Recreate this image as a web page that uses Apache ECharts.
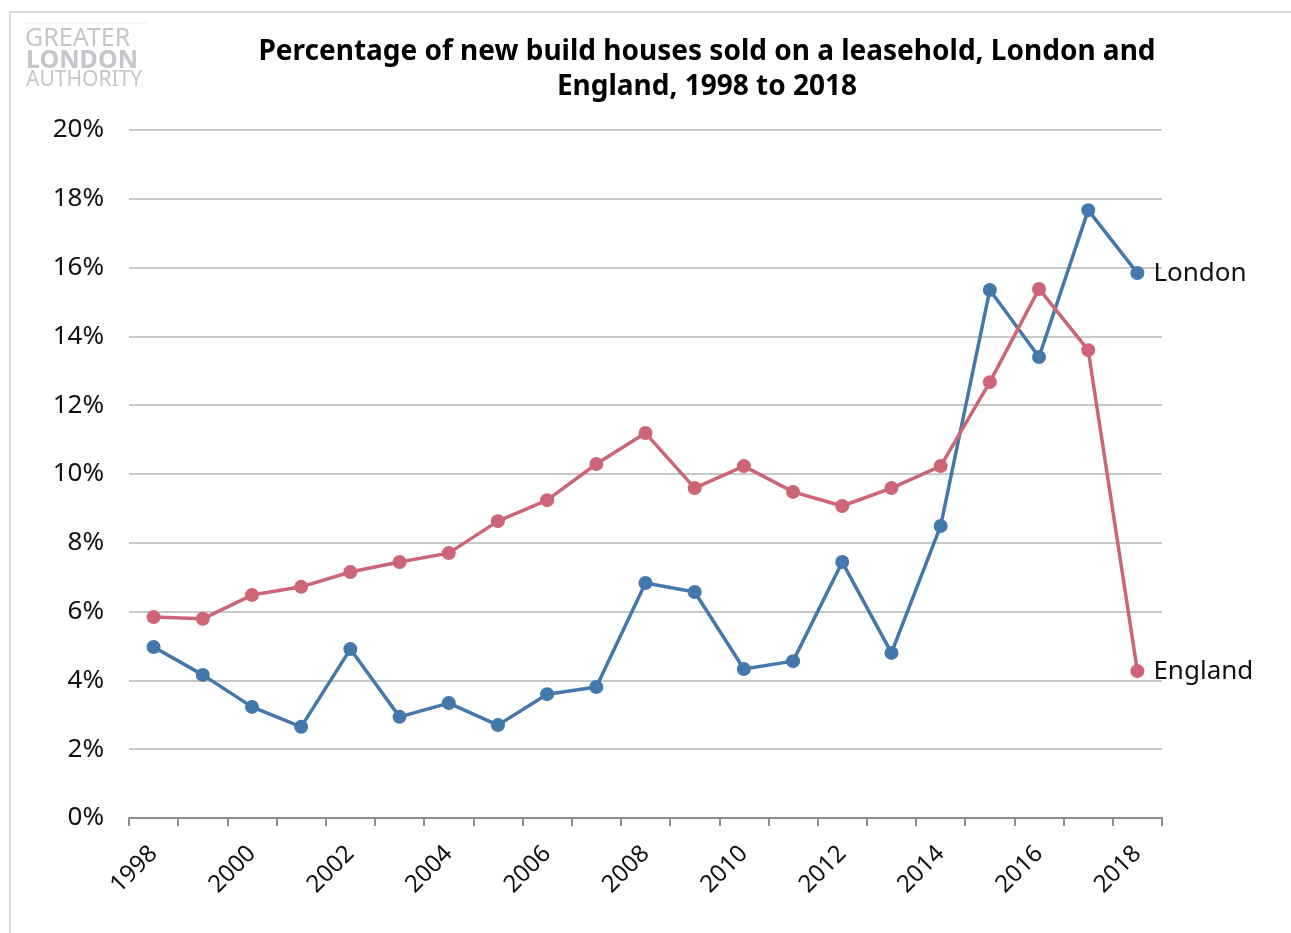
<!DOCTYPE html>
<html><head><meta charset="utf-8">
<script src="https://cdn.jsdelivr.net/npm/echarts@6/dist/echarts.min.js"></script>
<style>html,body{margin:0;padding:0;background:#fff}#c{width:1291px;height:933px}</style>
</head><body><div id="c"></div>
<script>
const years = ['1998','1999','2000','2001','2002','2003','2004','2005','2006','2007','2008','2009','2010','2011','2012','2013','2014','2015','2016','2017','2018'];
const london = [4.97,4.16,3.23,2.65,4.91,2.94,3.34,2.70,3.60,3.81,6.83,6.57,4.33,4.56,7.44,4.80,8.49,15.35,13.40,17.67,15.84];
const england = [5.84,5.79,6.48,6.72,7.15,7.44,7.70,8.63,9.24,10.29,11.19,9.59,10.23,9.48,9.07,9.59,10.23,12.67,15.38,13.60,4.27];
const titleText = 'Percentage of new build houses sold on a leasehold, London and\nEngland, 1998 to 2018';
const FONT = 'Noto Sans';
const chart = echarts.init(document.getElementById('c'));
function mk(name, data, color){
  return {
    name, type:'line', data, color,
    symbol:'circle', symbolSize:14,
    lineStyle:{width:3.5,color},
    itemStyle:{color},
    endLabel:{show:true, formatter:name, fontFamily:FONT, fontSize:26, color:'#111', distance:16},
    animation:false
  };
}
chart.setOption({
  animation:false,
  textStyle:{fontFamily:FONT},
  title:{text:titleText,left:702,top:30,textAlign:'center',
    textStyle:{fontFamily:FONT,fontSize:28,fontWeight:'bold',color:'#000',lineHeight:35}},
  graphic:[
    {type:'rect',shape:{x:10,y:12,width:1300,height:940},style:{fill:'none',stroke:'#d9d9d9',lineWidth:2},silent:true},
    {type:'line',shape:{x1:25,y1:23,x2:146,y2:23},style:{stroke:'#e3e8ee',lineWidth:1}},
    {type:'text',left:25,top:26,style:{text:'GREATER',fontFamily:FONT,fontSize:25,fill:'#c3c7cb',fontWeight:'normal'}},
    {type:'text',left:26,top:48,style:{text:'LONDON',fontFamily:FONT,fontSize:25,fill:'#c3c7cb',fontWeight:'bold'}},
    {type:'text',left:26,top:70,style:{text:'AUTHORITY',fontFamily:FONT,fontSize:21,fill:'#c3c7cb',fontWeight:'normal'}}
  ],
  grid:{left:129,right:129,top:130,bottom:115,containLabel:false},
  xAxis:{type:'category',data:years,boundaryGap:true,
    axisLine:{lineStyle:{color:'#8c8c8c',width:2}},
    axisTick:{show:true,interval:0,length:8,lineStyle:{color:'#8c8c8c',width:2}},
    axisLabel:{interval:1,rotate:45,fontFamily:FONT,fontSize:24,color:'#111',margin:32}
  },
  yAxis:{type:'value',min:0,max:20,interval:2,
    axisLine:{show:false},axisTick:{show:false},
    splitLine:{lineStyle:{color:'#c8c8c8',width:2}},
    axisLabel:{formatter:'{value}%',fontFamily:FONT,fontSize:26,color:'#111',margin:25}
  },
  series:[mk('London',london,'#4477aa'),mk('England',england,'#cc6677')]
});
</script></body></html>
